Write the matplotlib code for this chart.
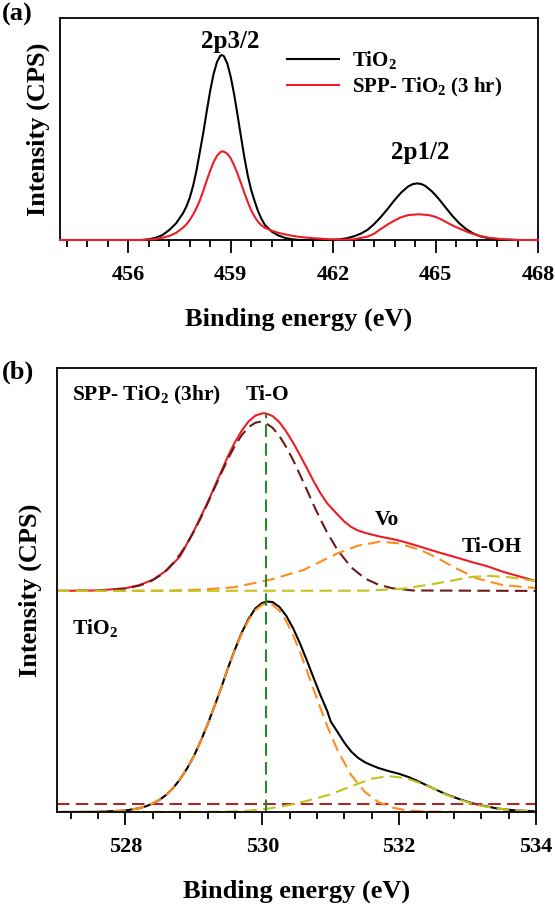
import matplotlib
matplotlib.use('Agg')
import matplotlib.pyplot as plt
from matplotlib.ticker import MultipleLocator, NullLocator

plt.rcParams['font.family'] = 'Liberation Serif'
plt.rcParams['font.weight'] = 'bold'
plt.rcParams['axes.labelweight'] = 'bold'
plt.rcParams['mathtext.fontset'] = 'custom'
plt.rcParams['mathtext.rm'] = 'Liberation Serif:bold'
plt.rcParams['mathtext.bf'] = 'Liberation Serif:bold'

# ---- (a) Ti 2p ----
ti2p_tio2_x = [456.4, 456.6, 456.8, 457.0, 457.2, 457.4, 457.6, 457.7, 457.8, 457.9, 458.0, 458.1,
               458.2, 458.3, 458.4, 458.5, 458.6, 458.7, 458.74, 458.8, 458.9, 459.0, 459.1, 459.2,
               459.3, 459.4, 459.5, 459.6, 459.7, 459.8, 459.9, 460.0, 460.2, 460.4, 460.6, 460.8,
               461.0, 462.0, 462.2, 462.4, 462.6, 462.8, 463.0, 463.2, 463.4, 463.6, 463.8, 464.0,
               464.2, 464.33, 464.46, 464.58, 464.7, 464.9, 465.1, 465.3, 465.5, 465.7, 465.9, 466.1,
               466.3, 466.6, 467.0, 467.4]
ti2p_tio2_y = [0.0, 0.003, 0.010, 0.022, 0.045, 0.075, 0.12, 0.15, 0.19, 0.245, 0.315, 0.40,
               0.486, 0.582, 0.673, 0.749, 0.803, 0.831, 0.833, 0.828, 0.795, 0.735, 0.656, 0.563,
               0.466, 0.372, 0.29, 0.225, 0.175, 0.13, 0.095, 0.068, 0.038, 0.020, 0.009, 0.003,
               0.0, 0.0, 0.003, 0.008, 0.016, 0.028, 0.045, 0.0715, 0.104, 0.141, 0.180, 0.215,
               0.2415, 0.2515, 0.255, 0.252, 0.2435, 0.218, 0.184, 0.145, 0.107, 0.0744, 0.0484, 0.0296,
               0.0169, 0.0065, 0.0015, 0.0]

ti2p_spp_x = [454.0, 456.4, 456.8, 457.0, 457.2, 457.4, 457.6, 457.7, 457.8, 457.9, 458.0, 458.1,
              458.2, 458.3, 458.4, 458.5, 458.6, 458.7, 458.77, 458.9, 459.0, 459.1, 459.2, 459.3,
              459.4, 459.5, 459.6, 459.7, 459.8, 459.9, 460.0, 460.2, 460.4, 460.6, 460.8, 461.0,
              461.4, 461.8, 462.2, 462.6, 463.0, 463.2, 463.4, 463.6, 463.8, 464.0, 464.2, 464.5,
              464.8, 465.0, 465.2, 465.4, 465.6, 465.8, 466.0, 466.3, 466.6, 467.0, 467.4, 468.0]
ti2p_spp_y = [0.0, 0.0, 0.004, 0.010, 0.018, 0.032, 0.055, 0.07, 0.09, 0.115, 0.145, 0.18,
              0.223, 0.269, 0.313, 0.351, 0.380, 0.396, 0.40, 0.389, 0.368, 0.336, 0.298, 0.256,
              0.212, 0.171, 0.133, 0.105, 0.082, 0.066, 0.055, 0.042, 0.032, 0.025, 0.019, 0.014,
              0.008, 0.004, 0.002, 0.003, 0.015, 0.028, 0.05, 0.07, 0.088, 0.103, 0.112, 0.116,
              0.112, 0.104, 0.09, 0.073, 0.058, 0.045, 0.032, 0.018, 0.009, 0.003, 0.0, 0.0]

# ---- (b) O 1s, TiO2 (lower) ----
o1s_tio2_x = [527.0, 527.6, 528.0, 528.2, 528.3, 528.4, 528.5, 528.6, 528.7, 528.8, 528.9, 529.0,
              529.1, 529.2, 529.3, 529.4, 529.5, 529.6, 529.7, 529.8, 529.9, 530.0, 530.07, 530.15,
              530.25, 530.35, 530.45, 530.55, 530.65, 530.75, 530.85, 530.95, 531.0, 531.1, 531.2, 531.3,
              531.4, 531.5, 531.6, 531.7, 531.85, 532.0, 532.15, 532.31, 532.5, 532.7, 532.9, 533.04,
              533.2, 533.43, 533.7, 534.0]
o1s_tio2_y = [0.0, 0.04, 0.34, 0.85, 1.29, 1.9, 2.77, 3.9, 5.45, 7.4, 9.8, 12.6,
              16.0, 19.7, 23.8, 28.0, 32.5, 36.6, 40.4, 43.5, 45.9, 47.1, 47.4, 47.3,
              46.2, 44.2, 41.4, 38.0, 34.2, 30.2, 26.3, 22.7, 20.4, 18.0, 15.6, 13.6,
              12.2, 11.2, 10.5, 9.9, 9.2, 8.6, 7.8, 6.7, 5.3, 3.9, 2.8, 2.1,
              1.5, 0.8, 0.35, 0.15]
tio2_tio_x = [527.0, 527.6, 528.0, 528.2, 528.3, 528.4, 528.5, 528.6, 528.7, 528.8, 528.9, 529.0,
              529.1, 529.2, 529.3, 529.4, 529.5, 529.6, 529.7, 529.8, 529.9, 530.0, 530.07, 530.15,
              530.25, 530.35, 530.45, 530.55, 530.65, 530.75, 530.85, 530.95, 531.1, 531.3, 531.5, 531.7,
              531.9, 532.1, 532.4, 533.0, 534.0]
tio2_tio_y = [0.0, 0.04, 0.34, 0.85, 1.29, 1.9, 2.77, 3.9, 5.45, 7.4, 9.8, 12.6,
              16.0, 19.7, 23.8, 28.0, 32.4, 36.5, 40.2, 43.2, 45.5, 46.7, 47.0, 46.7,
              45.3, 43.0, 39.8, 36.1, 31.9, 27.6, 23.4, 19.3, 13.9, 8.3, 4.5, 2.2,
              1.0, 0.4, 0.1, 0.0, 0.0]
tio2_oh_x = [527.0, 529.4, 529.8, 530.1, 530.4, 530.7, 531.0, 531.3, 531.6, 531.85, 532.1, 532.31,
             532.5, 532.7, 532.9, 533.04, 533.2, 533.43, 533.7, 534.0]
tio2_oh_y = [0.0, 0.05, 0.3, 0.8, 1.6, 2.7, 4.0, 5.8, 7.5, 8.1, 7.6, 6.5,
             5.3, 3.8, 2.7, 2.0, 1.4, 0.8, 0.35, 0.12]
tio2_bg_x = [527.0, 534.0]
tio2_bg_y = [1.7, 1.7]

# ---- (b) O 1s, SPP-TiO2 (3hr) (upper) ----
o1s_spp_x = [527.0, 527.6, 528.0, 528.2, 528.4, 528.6, 528.8, 529.0, 529.2, 529.4, 529.5, 529.6,
             529.7, 529.8, 529.9, 530.0, 530.05, 530.15, 530.25, 530.35, 530.45, 530.55, 530.65, 530.75,
             530.85, 530.95, 531.1, 531.2, 531.3, 531.4, 531.5, 531.6, 531.7, 531.9, 532.06, 532.3,
             532.55, 532.8, 533.04, 533.3, 533.52, 533.75, 534.0]
o1s_spp_y = [49.8, 49.9, 50.4, 51.1, 52.3, 54.4, 57.6, 63.3, 69.7, 76.7, 80.2, 83.3,
             85.9, 88.0, 89.3, 89.8, 89.8, 89.2, 87.8, 85.7, 83.2, 80.4, 77.5, 74.5,
             71.8, 69.5, 67.0, 65.4, 64.2, 63.4, 62.9, 62.5, 62.1, 61.5, 60.9, 59.8,
             58.6, 57.5, 56.4, 55.3, 54.1, 53.1, 52.0]
spp_tio_x = [527.0, 527.6, 528.0, 528.2, 528.3, 528.4, 528.5, 528.6, 528.7, 528.8, 528.9, 529.0,
             529.1, 529.2, 529.3, 529.4, 529.5, 529.6, 529.7, 529.8, 529.9, 529.97, 530.05, 530.15,
             530.25, 530.35, 530.45, 530.55, 530.65, 530.75, 530.85, 530.95, 531.1, 531.3, 531.5, 531.7,
             531.9, 532.2, 534.0]
spp_tio_y = [49.8, 49.87, 50.3, 51.0, 51.5, 52.25, 53.2, 54.5, 56.1, 58.1, 60.4, 63.2,
             66.2, 69.5, 72.9, 76.3, 79.6, 82.5, 84.9, 86.7, 87.7, 87.9, 87.6, 86.55,
             84.7, 82.2, 79.3, 76.0, 72.6, 69.15, 65.9, 62.9, 59.0, 55.1, 52.6, 51.2,
             50.4, 49.9, 49.8]
spp_vo_x = [527.0, 528.6, 529.1, 529.58, 530.11, 530.6, 531.09, 531.4, 531.72, 532.0, 532.31,
            532.55, 532.79, 533.14, 533.52, 533.96, 534.0]
spp_vo_y = [49.8, 49.85, 50.1, 50.6, 52.3, 54.5, 58.2, 60.0, 60.9, 60.5, 59.0,
            57.3, 55.2, 52.6, 51.1, 50.5, 50.45]
spp_oh_x = [527.0, 531.5, 532.06, 532.55, 533.04, 533.3, 533.6, 534.0]
spp_oh_y = [49.8, 49.85, 50.3, 51.5, 52.9, 53.2, 52.9, 52.0]

ti_o_pos = 530.05

fig = plt.figure(figsize=(5.55, 9.09), dpi=100)
ax1 = fig.add_axes([0.1081, 0.7360, 0.8613, 0.2442])
ax2 = fig.add_axes([0.1027, 0.1067, 0.8631, 0.4884])

lw = 1.5
dash = (6, 3)

ax1.plot(ti2p_tio2_x, ti2p_tio2_y, color='black', lw=lw, label=r'TiO$_\mathbf{2}$', zorder=3, clip_on=False)
ax1.plot(ti2p_spp_x, ti2p_spp_y, color='#ee1c24', lw=lw, label=r'SPP- TiO$_\mathbf{2}$ (3 hr)', zorder=3,
         clip_on=False)
ax1.set_xlim(454, 468)
ax1.set_ylim(0, 1)
ax1.xaxis.set_major_locator(MultipleLocator(3))
ax1.xaxis.set_minor_locator(MultipleLocator(0.6))
ax1.text(459.0, 0.892, '2p3/2', ha='center', va='center', fontsize=18)
ax1.text(464.55, 0.392, '2p1/2', ha='center', va='center', fontsize=18)
ax1.legend(loc='upper left', bbox_to_anchor=(0.475, 0.86), frameon=False, fontsize=15,
           handlelength=2.5, handletextpad=0.6, borderpad=0, borderaxespad=0, labelspacing=0.2)

# lower spectrum
ax2.plot(o1s_tio2_x, o1s_tio2_y, color='black', lw=lw)
ax2.plot(tio2_bg_x, tio2_bg_y, color='#a52a2a', lw=lw, dashes=dash)
ax2.plot(tio2_tio_x, tio2_tio_y, color='#ff8c1a', lw=lw, dashes=dash)
ax2.plot(tio2_oh_x, tio2_oh_y, color='#c3c31e', lw=lw, dashes=dash)
# upper spectrum
ax2.plot(o1s_spp_x, o1s_spp_y, color='#ee1c24', lw=lw)
ax2.plot(spp_tio_x, spp_tio_y, color='#6b1b1b', lw=lw, dashes=dash)
ax2.plot(spp_vo_x, spp_vo_y, color='#ff8c1a', lw=lw, dashes=dash)
ax2.plot(spp_oh_x, spp_oh_y, color='#c3c31e', lw=lw, dashes=dash)
ax2.plot([ti_o_pos, ti_o_pos], [0, max(o1s_spp_y)], color='#2a8a2a', lw=lw, dashes=dash)
ax2.set_xlim(527, 534)
ax2.set_ylim(0, 100)
ax2.xaxis.set_major_locator(MultipleLocator(2))
ax2.xaxis.set_minor_locator(MultipleLocator(0.4))
ax2.text(527.22, 93.9, r'SPP- TiO$_\mathbf{2}$ (3hr)', ha='left', va='center', fontsize=15.5)
ax2.text(530.08, 93.9, 'Ti-O', ha='center', va='center', fontsize=15.5)
ax2.text(531.82, 65.8, 'Vo', ha='center', va='center', fontsize=15.5)
ax2.text(533.35, 59.7, 'Ti-OH', ha='center', va='center', fontsize=15.5)
ax2.text(527.22, 41.4, r'TiO$_\mathbf{2}$', ha='left', va='center', fontsize=15.5)

for ax, ypad in ((ax1, 7), (ax2, 11)):
    ax.yaxis.set_major_locator(NullLocator())
    for s in ax.spines.values():
        s.set_linewidth(1.3)
    ax.tick_params(axis='x', which='major', direction='out', length=9, width=1.3, labelsize=16, pad=9)
    ax.tick_params(axis='x', which='minor', direction='out', length=5, width=1.3)
    ax.set_xlabel('Binding energy (eV)', fontsize=19, labelpad=16)
    ax.set_ylabel('Intensity (CPS)', fontsize=19, labelpad=ypad)

fig.text(0.003, 0.997, '(a)', fontsize=19, ha='left', va='top')
fig.text(0.003, 0.603, '(b)', fontsize=19, ha='left', va='top')

fig.savefig('out.png', dpi=100)
